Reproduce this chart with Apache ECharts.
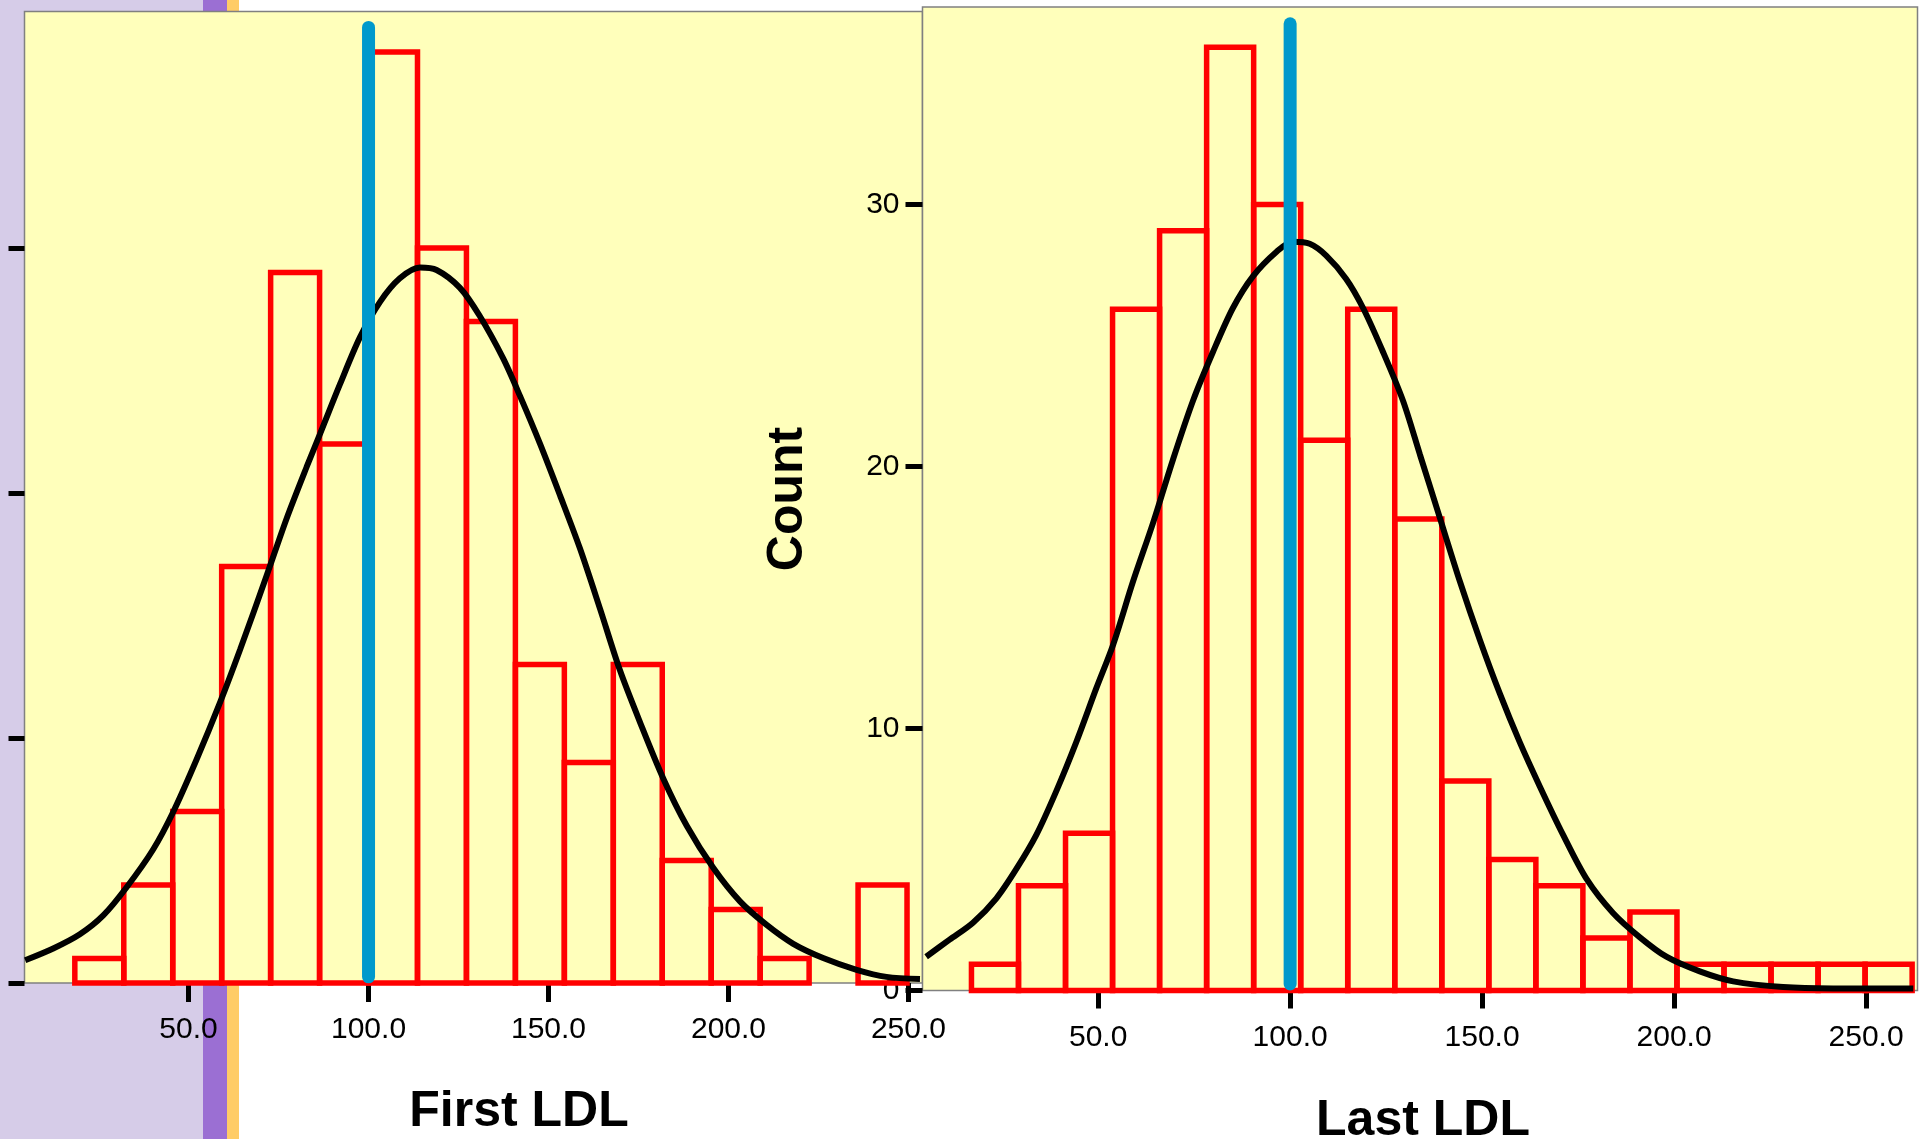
<!DOCTYPE html>
<html>
<head>
    <meta charset="UTF-8">
    <title>LDL histograms</title>
    <script src="https://cdn.jsdelivr.net/npm/echarts@6/dist/echarts.min.js"></script>
    <style>
        html, body { margin: 0; padding: 0; background: #fff; }
        #main { width: 1919px; height: 1139px; }
    </style>
</head>
<body>
<div id="main"></div>
<script type="text/javascript">
    // First LDL: bin edges and counts
    var firstEdges = [18.4, 32, 45.6, 59.2, 72.8, 86.4, 100, 113.6, 127.2, 140.8, 154.4, 168, 181.6, 195.2, 208.8, 222.4, 236, 249.6];
    var firstCounts = [1, 4, 7, 17, 29, 22, 38, 30, 27, 13, 9, 13, 5, 3, 1, 0, 4];
    // normal curve, points
    var firstCurveX = [4.6, 12.4, 19.8, 26.3, 32.8, 40.2, 45.8, 52.2, 58.7, 64.3, 71.7, 77.2, 82.8, 86.5, 92.1, 97.6, 103.2, 108.7, 114.3, 118.9, 125.4, 130.9, 137.4, 142.1, 147.6, 153.2, 158.7, 164.3, 169.8, 175.4, 181.9, 188.4, 195.8, 203.2, 210.6, 218, 226.3, 235.6, 243.9, 253.2];
    var firstCurveY = [0.93, 1.41, 1.99, 2.76, 3.91, 5.46, 7.0, 9.11, 11.43, 13.6, 16.63, 18.94, 21.06, 22.4, 24.45, 26.35, 27.8, 28.76, 29.2, 29.1, 28.37, 27.22, 25.49, 23.95, 22.02, 19.9, 17.75, 15.28, 12.78, 10.65, 8.34, 6.42, 4.69, 3.33, 2.37, 1.6, 1.02, 0.54, 0.25, 0.16];

    // Last LDL
    var lastEdges = [17, 29.25, 41.5, 53.75, 66, 78.25, 90.5, 102.75, 115, 127.25, 139.5, 151.75, 164, 176.25, 188.5, 200.75, 213, 225.25, 237.5, 249.75, 262];
    var lastCounts = [1, 4, 6, 26, 29, 36, 30, 21, 26, 18, 8, 5, 4, 2, 3, 1, 1, 1, 1, 1];
    var lastCurveX = [5.2, 11.3, 17.4, 23.5, 28.7, 33.9, 39.1, 44.3, 49.5, 53.9, 59.1, 64.3, 69.5, 74.7, 79.9, 85.1, 90.3, 96.4, 100.7, 105.1, 109.4, 114.6, 119, 124.2, 129.4, 133.8, 139, 144.2, 149.4, 154.6, 159.8, 165, 171.1, 177.2, 184.1, 191.1, 198, 206.7, 215.4, 228.4, 241.4, 262.3];
    var lastCurveY = [1.29, 1.94, 2.59, 3.52, 4.64, 5.94, 7.61, 9.48, 11.53, 13.2, 15.62, 17.85, 20.27, 22.51, 24.37, 26.05, 27.26, 28.19, 28.58, 28.5, 28.05, 27.16, 26.05, 24.37, 22.51, 20.46, 18.04, 15.62, 13.39, 11.34, 9.48, 7.8, 5.94, 4.26, 2.96, 2.03, 1.29, 0.73, 0.35, 0.13, 0.08, 0.08];

    var refValue = 100;
    var xTicks = [50, 100, 150, 200, 250];
    var yTicks = [0, 10, 20, 30];

    var fontName = "'Liberation Sans', Arial, sans-serif";

    function binData(edges, counts) {
        var out = [];
        for (var i = 0; i < counts.length; i++) {
            if (counts[i] > 0) out.push([edges[i], edges[i + 1], counts[i]]);
        }
        return out;
    }
    function pairs(xs, ys) {
        var out = [];
        for (var i = 0; i < xs.length; i++) out.push([xs[i], ys[i]]);
        return out;
    }
    function renderBin(params, api) {
        var p0 = api.coord([api.value(0), api.value(2)]);
        var p1 = api.coord([api.value(1), 0]);
        return {
            type: 'rect',
            shape: { x: p0[0], y: p0[1], width: p1[0] - p0[0], height: p1[1] - p0[1] },
            style: { fill: 'none', stroke: '#FF0000', lineWidth: 5.5 }
        };
    }

    function xAxisCfg(idx, min, max, margin, tickLen) {
        return {
            type: 'value', gridIndex: idx, min: min, max: max,
            axisLine: { show: false },
            splitLine: { show: false },
            axisTick: { show: true, inside: false, length: tickLen, customValues: xTicks,
                lineStyle: { color: '#000', width: 5 } },
            axisLabel: { show: true, customValues: xTicks, margin: margin, fontSize: 30,
                fontFamily: fontName, color: '#000',
                formatter: function (v) { return v.toFixed(1); } }
        };
    }

    var myChart = echarts.init(document.getElementById('main'));
    var option = {
        backgroundColor: '#fff',
        animation: false,
        graphic: [
            { type: 'rect', z: -10, shape: { x: 0, y: 0, width: 203, height: 1139 }, style: { fill: '#D6CCE8' } },
            { type: 'rect', z: -10, shape: { x: 203, y: 0, width: 24, height: 1139 }, style: { fill: '#9B6FD3' } },
            { type: 'rect', z: -10, shape: { x: 227, y: 0, width: 12, height: 1139 }, style: { fill: '#FFCC66' } },
            { type: 'text', z: 10, x: 519, y: 1112,
                style: { text: 'First LDL', font: 'bold 50px ' + fontName, fill: '#000', align: 'center', verticalAlign: 'middle' } },
            { type: 'text', z: 10, x: 1423, y: 1121,
                style: { text: 'Last LDL', font: 'bold 50px ' + fontName, fill: '#000', align: 'center', verticalAlign: 'middle' } },
            { type: 'text', z: 10, x: 788, y: 499, rotation: Math.PI / 2,
                style: { text: 'Count', font: 'bold 50px ' + fontName, fill: '#000', align: 'center', verticalAlign: 'middle' } }
        ],
        grid: [
            { left: 24.5, top: 11.5, width: 898, height: 971.5, show: true, backgroundColor: '#FFFFBB',
                borderColor: '#808080', borderWidth: 1.5, outerBoundsMode: 'none', containLabel: false },
            { left: 922.5, top: 7, width: 995, height: 983.5, show: true, backgroundColor: '#FFFFBB',
                borderColor: '#808080', borderWidth: 1.5, outerBoundsMode: 'none', containLabel: false }
        ],
        xAxis: [
            xAxisCfg(0, 4.42, 253.9, 32, 19),
            xAxisCfg(1, 4.25, 263.4, 32, 18)
        ],
        yAxis: [
            {
                type: 'value', gridIndex: 0, min: 0, max: 39.65,
                axisLine: { show: false }, splitLine: { show: false },
                axisTick: { show: true, length: 16, customValues: yTicks, lineStyle: { color: '#000', width: 5 } },
                axisLabel: { show: false }
            },
            {
                type: 'value', gridIndex: 1, min: 0, max: 37.54,
                axisLine: { show: false }, splitLine: { show: false },
                axisTick: { show: true, length: 17, customValues: yTicks, lineStyle: { color: '#000', width: 5 } },
                axisLabel: { show: true, customValues: yTicks, margin: 23, fontSize: 30, fontFamily: fontName, color: '#000' }
            }
        ],
        series: [
            { type: 'custom', xAxisIndex: 0, yAxisIndex: 0, renderItem: renderBin,
                encode: { x: [0, 1], y: 2 }, data: binData(firstEdges, firstCounts), z: 2 },
            { type: 'line', xAxisIndex: 0, yAxisIndex: 0, data: pairs(firstCurveX, firstCurveY),
                smooth: 0.3, showSymbol: false, lineStyle: { color: '#000', width: 6 }, z: 3 },
            { type: 'line', xAxisIndex: 0, yAxisIndex: 0, data: [[refValue, 0.25], [refValue, 39.0]],
                showSymbol: false, lineStyle: { color: '#0099CC', width: 13, cap: 'round' }, z: 4 },

            { type: 'custom', xAxisIndex: 1, yAxisIndex: 1, renderItem: renderBin,
                encode: { x: [0, 1], y: 2 }, data: binData(lastEdges, lastCounts), z: 2 },
            { type: 'line', xAxisIndex: 1, yAxisIndex: 1, data: pairs(lastCurveX, lastCurveY),
                smooth: 0.3, showSymbol: false, lineStyle: { color: '#000', width: 6 }, z: 3 },
            { type: 'line', xAxisIndex: 1, yAxisIndex: 1, data: [[refValue, 0.25], [refValue, 36.9]],
                showSymbol: false, lineStyle: { color: '#0099CC', width: 13, cap: 'round' }, z: 4 }
        ]
    };
    myChart.setOption(option);
</script>
</body>
</html>
